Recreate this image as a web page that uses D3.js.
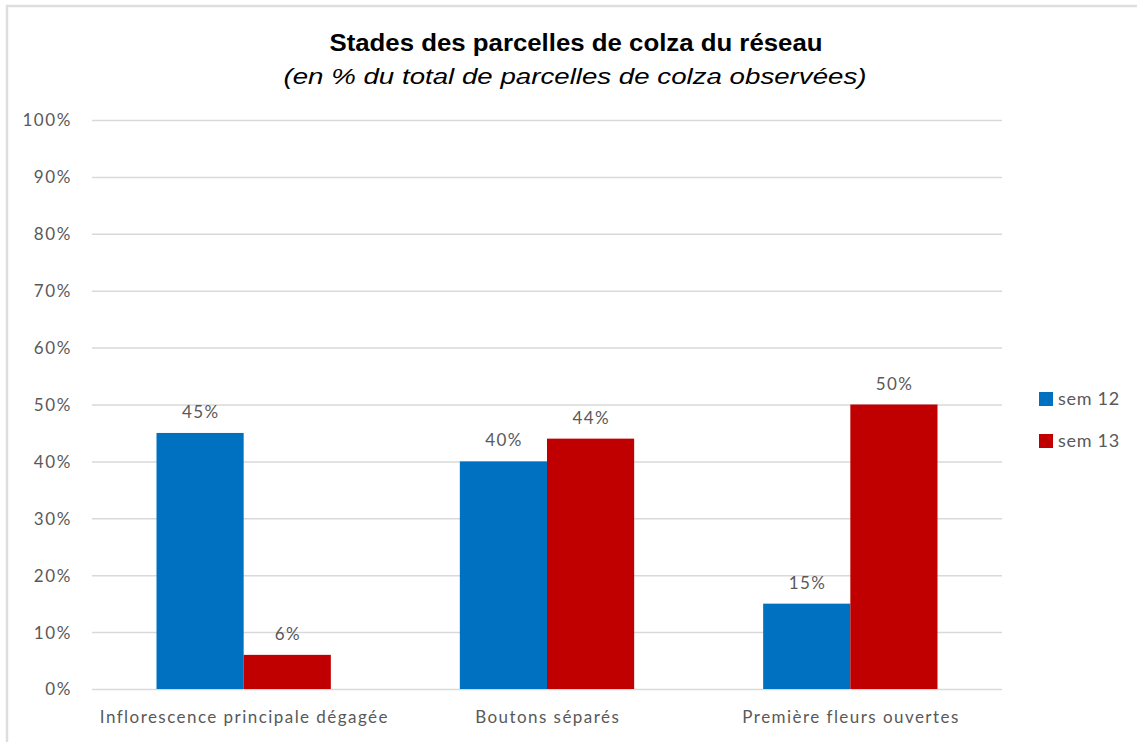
<!DOCTYPE html>
<html>
<head>
<meta charset="utf-8">
<script src="https://cdn.jsdelivr.net/npm/d3@7"></script>
<style>
  html, body { margin: 0; padding: 0; background: #fff; }
  svg { display: block; }
</style>
</head>
<body>
<svg id="chart" width="1137" height="742"></svg>
<script>
const categories = ["Inflorescence principale dégagée", "Boutons séparés", "Première fleurs ouvertes"];
const seriesNames = ["sem 12", "sem 13"];
const sem12 = [45, 40, 15];
const sem13 = [6, 44, 50];
const yTicks = [0, 10, 20, 30, 40, 50, 60, 70, 80, 90, 100];
const colors = ["#0070C0", "#C00000"];
const titleText = "Stades des parcelles de colza du réseau";
const subtitleText = "(en %  du total de parcelles de colza observées)";

const seriesValues = [sem12, sem13];
const svg = d3.select("#chart");
const W = 1137, H = 742;
const plot = { left: 92, right: 1002, top: 120, bottom: 689 };
const textColor = "#595959";
const font = "Lato, 'Open Sans', sans-serif";

// frame
svg.append("path")
  .attr("d", `M7,${H} L7,6 L${W},6`)
  .attr("fill", "none").attr("stroke", "#dedede").attr("stroke-width", 2.5);

const x = d3.scaleBand().domain(categories).range([plot.left, plot.right]).paddingInner(0).paddingOuter(0);
const xs = d3.scaleBand().domain(seriesNames).range([0, x.bandwidth()]).paddingInner(0).paddingOuter(0.74);
const y = d3.scaleLinear().domain([0, 100]).range([plot.bottom, plot.top]);

// gridlines
const yAxis = d3.axisLeft(y).tickValues(yTicks).tickSize(-(plot.right - plot.left)).tickFormat(d => d + "%").tickPadding(20);
const gy = svg.append("g").attr("transform", `translate(${plot.left},0)`).call(yAxis);
gy.select(".domain").remove();
gy.selectAll(".tick line").attr("stroke", "#d9d9d9").attr("stroke-width", 1.5);
gy.selectAll(".tick text").attr("fill", textColor).attr("font-family", font).attr("font-size", 17)
  .attr("letter-spacing", 1.6).attr("dy", "0.35em");

// bars
const groups = svg.append("g").selectAll("g").data(categories).join("g")
  .attr("transform", d => `translate(${x(d)},0)`);
groups.selectAll("rect").data((d, i) => seriesNames.map((s, j) => ({ s, v: seriesValues[j][i], j })))
  .join("rect")
  .attr("x", d => xs(d.s)).attr("width", xs.bandwidth())
  .attr("y", d => y(d.v)).attr("height", d => y(0) - y(d.v))
  .attr("fill", d => colors[d.j]);
groups.selectAll("text").data((d, i) => seriesNames.map((s, j) => ({ s, v: seriesValues[j][i], j })))
  .join("text")
  .attr("x", d => xs(d.s) + xs.bandwidth() / 2 + 0.7).attr("y", d => y(d.v) - 15)
  .attr("text-anchor", "middle").attr("fill", textColor)
  .attr("font-family", font).attr("font-size", 17).attr("letter-spacing", 1.4)
  .text(d => d.v + "%");

// x axis labels
const xAxis = d3.axisBottom(x).tickSize(0).tickPadding(22);
const gx = svg.append("g").attr("transform", `translate(0,${plot.bottom})`).call(xAxis);
gx.select(".domain").remove();
gx.selectAll(".tick text").attr("fill", textColor).attr("font-family", font).attr("font-size", 17)
  .attr("letter-spacing", 1.45).attr("dx", 0.7);

// title
svg.append("text").attr("x", 576).attr("y", 51).attr("text-anchor", "middle")
  .attr("font-family", "'Liberation Sans Narrow', 'Liberation Sans', Arial, sans-serif")
  .attr("font-weight", "bold").attr("font-size", 23).attr("fill", "#000")
  .attr("textLength", 493).attr("lengthAdjust", "spacingAndGlyphs")
  .text(titleText);
svg.append("text").attr("x", 575).attr("y", 84).attr("text-anchor", "middle")
  .attr("font-family", "'Liberation Sans', Arial, sans-serif")
  .attr("font-style", "italic").attr("font-size", 22).attr("fill", "#000")
  .attr("textLength", 583).attr("lengthAdjust", "spacingAndGlyphs")
  .text(subtitleText);

// legend
const lg = svg.append("g").attr("transform", "translate(1039,392)");
const li = lg.selectAll("g").data(seriesNames).join("g").attr("transform", (d, i) => `translate(0,${i * 42})`);
li.append("rect").attr("width", 14).attr("height", 14).attr("fill", (d, i) => colors[i]);
li.append("text").attr("x", 19).attr("y", 7).attr("dy", "0.35em")
  .attr("fill", textColor).attr("font-family", font).attr("font-size", 18).attr("letter-spacing", 0.7).text(d => d);
</script>
</body>
</html>
